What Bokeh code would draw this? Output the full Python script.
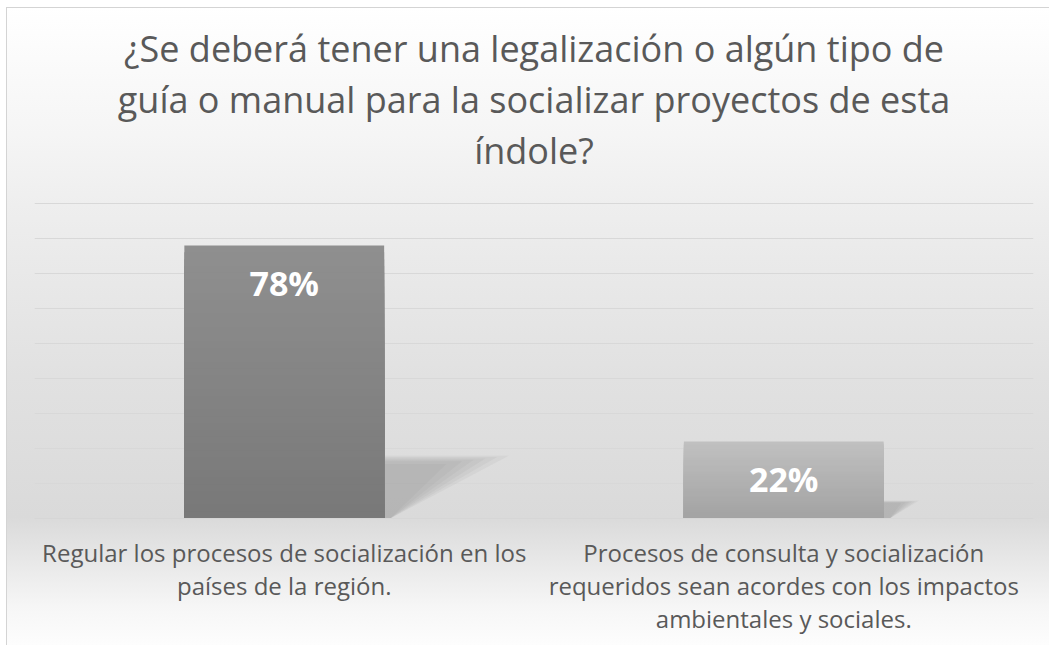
from bokeh.plotting import figure
from bokeh.models import FactorRange, Range1d, FixedTicker, ColumnDataSource, LabelSet, Title
from bokeh.embed import file_html
from bokeh.resources import INLINE
from bokeh.core.properties import value

# ---- data ----
title_lines = [
    "¿Se deberá tener una legalización o algún tipo de",
    "guía o manual para la socializar proyectos de esta",
    "índole?",
]
categories = [
    "Regular los procesos de socialización en los\npaíses de la región.",
    "Procesos de consulta y socialización\nrequeridos sean acordes con los impactos\nambientales y sociales.",
]
values = [0.78, 0.22]
value_labels = ["78%", "22%"]
y_ticks = [0.0, 0.1, 0.2, 0.3, 0.4, 0.5, 0.6, 0.7, 0.8, 0.9]

# ---- styles ----
FONT = "Open Sans"
TEXT_COLOR = "#595959"
bar_top_colors = [(0x8f, 0x8f, 0x8f), (0xc0, 0xc0, 0xc0)]
bar_bottom_colors = [(0x78, 0x78, 0x78), (0xa2, 0xa2, 0xa2)]
BAR_WIDTH = 0.4
N_SLICES = 40

def hexcol(rgb):
    return "#%02x%02x%02x" % tuple(int(round(c)) for c in rgb)

p = figure(width=1043, height=638, output_backend="svg", toolbar_location=None,
           title=None,
           x_range=FactorRange(*categories, range_padding=0),
           y_range=Range1d(0, 0.9029),
           min_border_left=28, min_border_right=16, min_border_bottom=127,
           min_border_top=195)
p.margin = (7, 0, 0, 6)
p.styles = {
    "background": "linear-gradient(to bottom, #ffffff 0%, #f5f5f5 20%, #eeeeee 31%, #e1e1e1 58%, #dadada 80%, #e8e8e8 87%, #f6f6f6 94%, #fdfdfd 100%)",
    "box-shadow": "inset 1px 1px 0 #d4d4d4",
}
p.background_fill_alpha = 0
p.border_fill_alpha = 0
p.outline_line_color = None

# title: spacer closest to the plot, then one Title per line (first added sits closest)
p.add_layout(Title(text=" ", text_font=FONT, text_font_size="19px", standoff=0), "above")
for line in reversed(title_lines):
    p.add_layout(Title(text=line, align="center", text_font=FONT, text_font_size="36px",
                       text_font_style="normal", text_color=TEXT_COLOR, standoff=0), "above")

# grid / axes
p.yaxis.ticker = FixedTicker(ticks=y_ticks)
p.yaxis.visible = False
p.ygrid.grid_line_color = "#d8d8d8"
p.ygrid.grid_line_width = 1
p.xgrid.visible = False
p.xaxis.axis_line_color = "#d6d6d6"
p.xaxis.major_tick_line_color = None
p.xaxis.minor_tick_line_color = None
p.xaxis.major_label_text_font = FONT
p.xaxis.major_label_text_font_size = "24px"
p.xaxis.major_label_text_color = TEXT_COLOR
p.xaxis.major_label_text_line_height = 1.0
p.xaxis.major_label_standoff = 11

# soft shadows (projected from each bar's height)
for ratio_dx, ratio_h in [(0.32, 0.23), (0.29, 0.225), (0.26, 0.22), (0.23, 0.215), (0.20, 0.21), (0.16, 0.20)]:
    xs, ys = [], []
    for i, v in enumerate(values):
        xr = i + 0.5 + BAR_WIDTH / 2
        hs = ratio_h * v
        dx = ratio_dx * v
        xs.append([xr, xr, xr + dx, xr + 0.012])
        ys.append([0, hs, hs, 0])
    p.patches(xs, ys, fill_color="#7a7a7a", fill_alpha=0.08, line_color=None)

# bars with vertical gradient: overlapping slices drawn from the top down
bx, bt, bc = [], [], []
for k in range(N_SLICES, 0, -1):
    for i, v in enumerate(values):
        f = k / N_SLICES
        col = [bar_bottom_colors[i][c] + (bar_top_colors[i][c] - bar_bottom_colors[i][c]) * f for c in range(3)]
        bx.append(categories[i])
        bt.append(v * f)
        bc.append(hexcol(col))
p.vbar(x=bx, bottom=0, top=bt, width=BAR_WIDTH, fill_color=bc, line_color=None)

src = ColumnDataSource(dict(x=categories, y=values, t=value_labels))
labels = LabelSet(x="x", y="y", text="t", source=src, y_offset=-37,
                  text_align="center", text_baseline="middle",
                  text_font=value(FONT), text_font_size="34px", text_font_style="bold",
                  text_color="white")
p.add_layout(labels)

open("out.html", "w").write(file_html(p, INLINE))
